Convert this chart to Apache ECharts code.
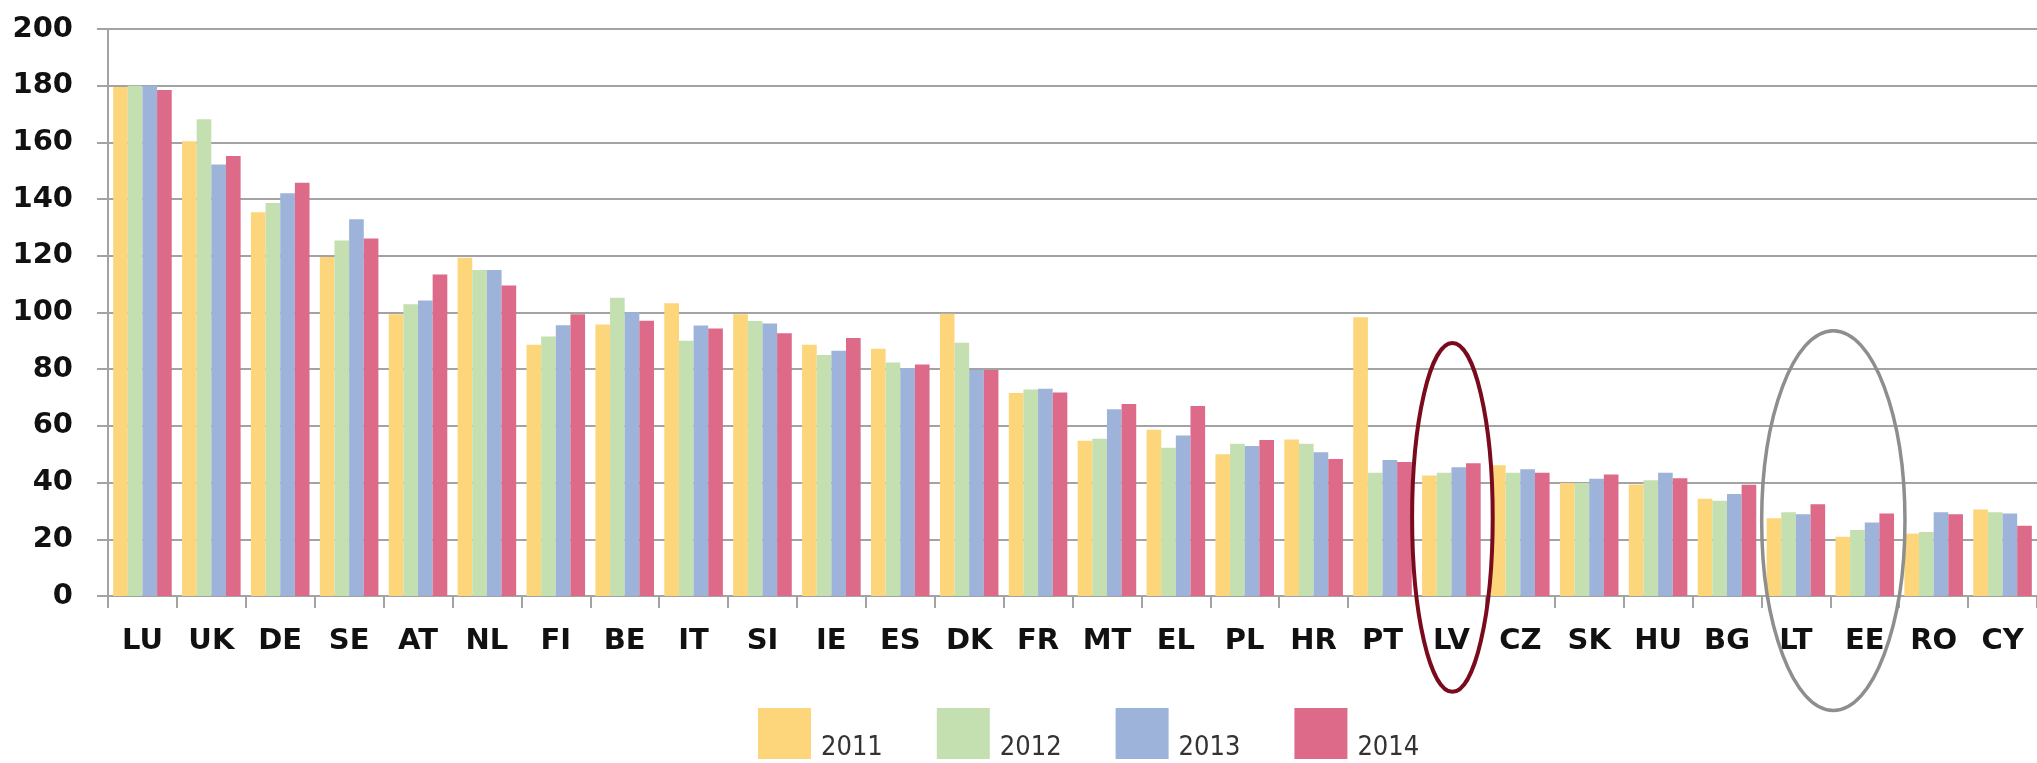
<!DOCTYPE html>
<html>
<head>
<meta charset="utf-8">
<script src="https://cdn.jsdelivr.net/npm/echarts@6/dist/echarts.min.js"></script>
<style>
html,body{margin:0;padding:0;background:#fff;}
#chart{width:2037px;height:763px;}
</style>
</head>
<body>
<div id="chart"></div>
<script>
const categories = ['LU','UK','DE','SE','AT','NL','FI','BE','IT','SI','IE','ES','DK','FR','MT','EL','PL','HR','PT','LV','CZ','SK','HU','BG','LT','EE','RO','CY'];
const years = ['2011','2012','2013','2014'];
const v2011 = [179.5,160.4,135.4,119.6,99.4,119.3,88.6,95.8,103.3,99.4,88.6,87.2,99.6,71.6,54.8,58.6,50.0,55.2,98.3,42.5,46.1,39.9,39.3,34.3,27.4,20.9,22.0,30.5];
const v2012 = [180.0,168.2,138.6,125.4,102.9,115.0,91.5,105.2,90.0,97.0,85.0,82.4,89.3,72.8,55.5,52.3,53.7,53.7,43.5,43.5,43.5,39.9,40.8,33.6,29.5,23.3,22.6,29.5];
const v2013 = [180.0,152.2,142.1,132.9,104.2,115.0,95.5,100.1,95.4,96.1,86.5,80.4,79.7,73.1,65.9,56.6,52.9,50.7,48.0,45.4,44.7,41.4,43.5,36.0,28.8,25.9,29.5,29.1];
const v2014 = [178.5,155.2,145.8,126.1,113.4,109.5,99.4,97.1,94.4,92.7,91.0,81.7,79.7,71.8,67.7,67.0,55.0,48.3,47.3,46.8,43.5,42.9,41.5,39.2,32.4,29.1,28.8,24.8];
const yTicks = [0,20,40,60,80,100,120,140,160,180,200];

const colors = ['#FDD57A','#C4DFB0','#9DB3DA','#DC6A88'];
const seriesValues = [v2011, v2012, v2013, v2014];

const chart = echarts.init(document.getElementById('chart'), null, {renderer:'canvas'});
const gray = '#A3A3A3';
const labelFont = '"DejaVu Sans",sans-serif';
const option = {
  backgroundColor: '#ffffff',
  animation: false,
  grid: {left: 108, top: 29, width: 1932, height: 567, containLabel: false},
  legend: {
    data: years,
    left: 758, top: 704.5,
    padding: 0,
    icon: 'rect',
    itemWidth: 53, itemHeight: 51,
    itemGap: 54,
    formatter: name => '\n' + name,
    textStyle: {fontFamily: '"DejaVu Sans Condensed","Liberation Sans Narrow",sans-serif', fontSize: 27, color: '#333', padding: [0,0,0,5], lineHeight: 29}
  },
  xAxis: {
    type: 'category',
    data: categories,
    axisLine: {lineStyle: {color: gray, width: 2}},
    axisTick: {show: true, length: 12, lineStyle: {color: gray, width: 2}},
    axisLabel: {interval: 0, margin: 31, fontSize: 29, fontWeight: 'bold', fontFamily: labelFont, color: '#111'},
    splitLine: {show: false}
  },
  yAxis: {
    type: 'value',
    min: 0, max: 200, interval: 20,
    axisLine: {show: true, lineStyle: {color: gray, width: 2}},
    axisTick: {show: true, length: 11, lineStyle: {color: gray, width: 2}},
    axisLabel: {margin: 35, fontSize: 29, fontWeight: 'bold', fontFamily: labelFont, color: '#111',
      formatter: v => yTicks.includes(v) ? String(v) : ''},
    splitLine: {show: true, lineStyle: {color: gray, width: 2}}
  },
  series: years.map((y, i) => ({
    name: y,
    type: 'bar',
    data: seriesValues[i],
    barGap: '0%',
    barCategoryGap: '15%',
    itemStyle: {color: colors[i]}
  }))
};
chart.setOption(option);

// annotation ellipses, positioned through the axes
function px(cat, val) { return chart.convertToPixel({gridIndex: 0}, [cat, val]); }
const catW = px('UK', 0)[0] - px('LU', 0)[0];
const unitPx = px('LU', 0)[1] - px('LU', 1)[1];
const lv = px('LV', 27.7);
const lt = px('LT', 26.6), ee = px('EE', 26.6);
chart.setOption({
  graphic: [
    {type: 'ellipse', z: 100, shape: {cx: lv[0] + 1, cy: lv[1], rx: catW * 0.585, ry: unitPx * 61.5},
     style: {fill: 'none', stroke: '#7A0B1D', lineWidth: 4}},
    {type: 'ellipse', z: 100, shape: {cx: (lt[0] + ee[0]) / 2 + 3, cy: lt[1], rx: catW * 1.04, ry: unitPx * 67},
     style: {fill: 'none', stroke: '#8E8E8E', lineWidth: 3.5}}
  ]
});
</script>
</body>
</html>
